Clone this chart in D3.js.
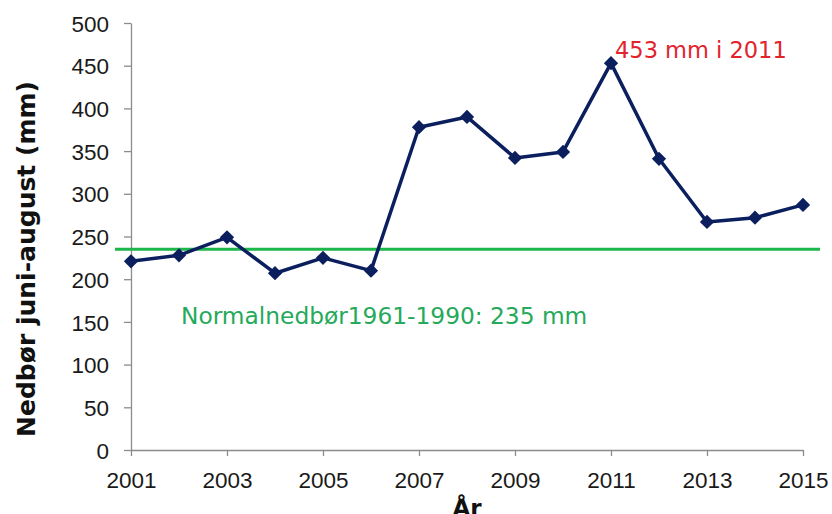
<!DOCTYPE html>
<html>
<head>
<meta charset="utf-8">
<script src="https://cdn.jsdelivr.net/npm/d3@7"></script>
<style>
  html, body { margin: 0; padding: 0; background: #fff; }
  svg { display: block; font-family: "DejaVu Sans", Verdana, sans-serif; }
  .axis path, .axis line { stroke: #8c8c8c; stroke-width: 1.3; }
  .axis text { fill: #1a1a1a; font-size: 22.5px; }
</style>
</head>
<body>
<svg id="chart" width="832" height="514"></svg>
<script>
// Summer precipitation (June-August), mm
const years = [2001, 2002, 2003, 2004, 2005, 2006, 2007, 2008, 2009, 2010, 2011, 2012, 2013, 2014, 2015];
const precip = [221, 228, 249, 207, 225, 210, 378, 390, 342, 349, 453, 341, 267, 272, 287];
const normal = 235;
const yTicks = [0, 50, 100, 150, 200, 250, 300, 350, 400, 450, 500];
const xTicks = [2001, 2003, 2005, 2007, 2009, 2011, 2013, 2015];

const svg = d3.select('#chart');
const margin = { left: 131, right: 29, top: 23, bottom: 64 };
const width = 832, height = 514;

const x = d3.scaleLinear()
  .domain([2001, 2015])
  .range([margin.left, width - margin.right]);
const y = d3.scaleLinear()
  .domain([0, 500])
  .range([height - margin.bottom, margin.top]);

// axes
svg.append('g')
  .attr('class', 'axis')
  .attr('transform', 'translate(' + margin.left + ',0)')
  .call(d3.axisLeft(y).tickValues(yTicks).tickSize(7).tickPadding(15).tickSizeOuter(0))
  .selectAll('text').attr('dy', '0.36em');

svg.append('g')
  .attr('class', 'axis')
  .attr('transform', 'translate(0,' + y(0) + ')')
  .call(d3.axisBottom(x).tickValues(xTicks).tickFormat(d3.format('d')).tickSize(6).tickPadding(16).tickSizeOuter(0));

// normal line with soft shadow
const defs = svg.append('defs');
defs.append('filter').attr('id', 'blur')
  .append('feGaussianBlur').attr('stdDeviation', 1.6);

svg.append('line')
  .attr('x1', 115).attr('x2', 820)
  .attr('y1', y(normal) + 3).attr('y2', y(normal) + 3)
  .attr('stroke', '#9a9a9a').attr('stroke-width', 3)
  .attr('filter', 'url(#blur)').attr('opacity', 0.6);

svg.append('line')
  .attr('x1', 115).attr('x2', 820)
  .attr('y1', y(normal)).attr('y2', y(normal))
  .attr('stroke', '#1db64a').attr('stroke-width', 3);

// data line
const line = d3.line()
  .x((d, i) => x(years[i]))
  .y(d => y(d));

svg.append('path')
  .datum(precip)
  .attr('fill', 'none')
  .attr('stroke', '#0b1f5e')
  .attr('stroke-width', 3.5)
  .attr('stroke-linejoin', 'round')
  .attr('d', line);

svg.append('g')
  .selectAll('path')
  .data(precip)
  .enter().append('path')
  .attr('d', d3.symbol().type(d3.symbolDiamond2).size(130))
  .attr('transform', (d, i) => 'translate(' + x(years[i]) + ',' + y(d) + ')')
  .attr('fill', '#0b1f5e');

// labels
svg.append('text')
  .attr('x', x(2011) + 4).attr('y', 58)
  .attr('fill', '#e3232b').attr('font-size', 22.5)
  .text('453 mm i 2011');

svg.append('text')
  .attr('x', 181).attr('y', 324)
  .attr('fill', '#25a95a').attr('font-size', 23.3)
  .text('Normalnedbør1961-1990: 235 mm');

svg.append('text')
  .attr('transform', 'translate(35,259) rotate(-90)')
  .attr('text-anchor', 'middle')
  .attr('font-weight', 'bold').attr('font-size', 25)
  .attr('fill', '#111')
  .text('Nedbør juni-august (mm)');

svg.append('text')
  .attr('x', 467).attr('y', 516)
  .attr('text-anchor', 'middle')
  .attr('font-weight', 'bold').attr('font-size', 23)
  .attr('fill', '#111')
  .text('År');
</script>
</body>
</html>
